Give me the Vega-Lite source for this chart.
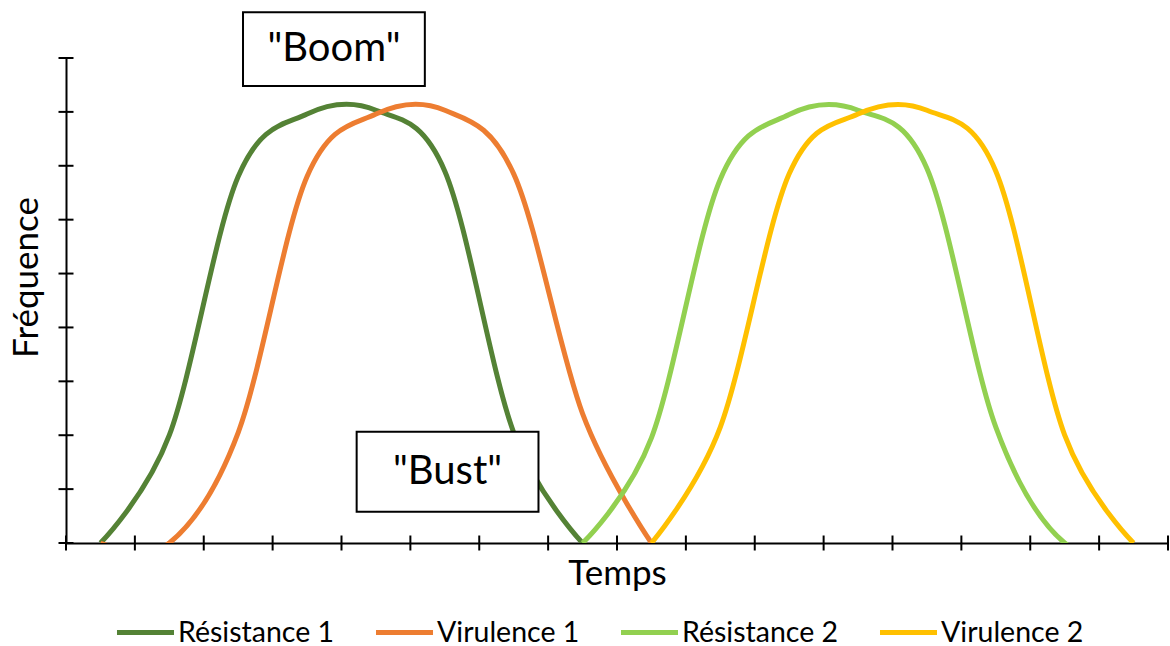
{
  "$schema": "https://vega.github.io/schema/vega-lite/v6.json",
  "width": 1102,
  "height": 485,
  "autosize": {"type": "none"},
  "padding": {"left": 66, "top": 58, "right": 2, "bottom": 103},
  "background": "white",
  "config": {
    "view": {"stroke": null},
    "font": "Lato",
    "axis": {"domainColor": "#000", "domainWidth": 2, "ticks": false, "labels": false, "grid": false, "titleFont": "Lato", "titleFontSize": 35, "titleFontWeight": "normal", "titleColor": "#000"},
    "axisX": {"titlePadding": 13},
    "axisY": {"titlePadding": 22, "titleY": 219}
  },
  "datasets": {
    "curves": [
      {"serie": "Résistance 1", "temps": 0.5, "freq": 0},
      {"serie": "Résistance 1", "temps": 1.5, "freq": 2.0},
      {"serie": "Résistance 1", "temps": 2.5, "freq": 6.8},
      {"serie": "Résistance 1", "temps": 3.5, "freq": 7.96},
      {"serie": "Résistance 1", "temps": 4.5, "freq": 8.03},
      {"serie": "Résistance 1", "temps": 5.5, "freq": 6.9},
      {"serie": "Résistance 1", "temps": 6.5, "freq": 2.05},
      {"serie": "Résistance 1", "temps": 7.5, "freq": 0},
      {"serie": "Virulence 1", "temps": 0.5, "freq": 0},
      {"serie": "Virulence 1", "temps": 1.5, "freq": 0},
      {"serie": "Virulence 1", "temps": 2.5, "freq": 2.05},
      {"serie": "Virulence 1", "temps": 3.5, "freq": 6.8},
      {"serie": "Virulence 1", "temps": 4.5, "freq": 7.96},
      {"serie": "Virulence 1", "temps": 5.5, "freq": 8.03},
      {"serie": "Virulence 1", "temps": 6.5, "freq": 6.85},
      {"serie": "Virulence 1", "temps": 7.5, "freq": 2.4},
      {"serie": "Virulence 1", "temps": 8.5, "freq": 0},
      {"serie": "Résistance 2", "temps": 7.5, "freq": 0},
      {"serie": "Résistance 2", "temps": 8.5, "freq": 1.95},
      {"serie": "Résistance 2", "temps": 9.5, "freq": 6.75},
      {"serie": "Résistance 2", "temps": 10.5, "freq": 7.95},
      {"serie": "Résistance 2", "temps": 11.5, "freq": 8.03},
      {"serie": "Résistance 2", "temps": 12.5, "freq": 6.95},
      {"serie": "Résistance 2", "temps": 13.5, "freq": 2.15},
      {"serie": "Résistance 2", "temps": 14.5, "freq": 0},
      {"serie": "Résistance 2", "temps": 15.5, "freq": 0},
      {"serie": "Virulence 2", "temps": 8.5, "freq": 0},
      {"serie": "Virulence 2", "temps": 9.5, "freq": 2.15},
      {"serie": "Virulence 2", "temps": 10.5, "freq": 6.85},
      {"serie": "Virulence 2", "temps": 11.5, "freq": 7.96},
      {"serie": "Virulence 2", "temps": 12.5, "freq": 8.03},
      {"serie": "Virulence 2", "temps": 13.5, "freq": 6.9},
      {"serie": "Virulence 2", "temps": 14.5, "freq": 2.0},
      {"serie": "Virulence 2", "temps": 15.5, "freq": 0}
    ],
    "xticks": [{"t": 0}, {"t": 1}, {"t": 2}, {"t": 3}, {"t": 4}, {"t": 5}, {"t": 6}, {"t": 7}, {"t": 8}, {"t": 9}, {"t": 10}, {"t": 11}, {"t": 12}, {"t": 13}, {"t": 14}, {"t": 15}, {"t": 16}],
    "yticks": [{"t": 0}, {"t": 1}, {"t": 2}, {"t": 3}, {"t": 4}, {"t": 5}, {"t": 6}, {"t": 7}, {"t": 8}, {"t": 9}],
    "notes": [
      {"label": "\"Boom\"", "gauche": 2.57, "droite": 5.21, "bas": 8.48, "haut": 9.85, "cx": 3.89, "cy": 9.17},
      {"label": "\"Bust\"", "gauche": 4.22, "droite": 6.86, "bas": 0.58, "haut": 2.065, "cx": 5.54, "cy": 1.32}
    ]
  },
  "layer": [
    {
      "data": {"name": "xticks"},
      "mark": {"type": "tick", "orient": "vertical", "size": 15, "thickness": 2, "color": "#000", "opacity": 1},
      "encoding": {
        "x": {"field": "t", "type": "quantitative", "title": "Temps", "scale": {"domain": [0, 16], "nice": false, "zero": false}},
        "y": {"datum": 0, "type": "quantitative", "title": "Fréquence", "scale": {"domain": [0, 9], "nice": false}}
      }
    },
    {
      "data": {"name": "yticks"},
      "mark": {"type": "tick", "orient": "horizontal", "size": 15, "thickness": 2, "color": "#000", "opacity": 1},
      "encoding": {
        "x": {"datum": 0, "type": "quantitative", "title": "Temps"},
        "y": {"field": "t", "type": "quantitative", "title": "Fréquence"}
      }
    },
    {
      "data": {"name": "curves"},
      "transform": [{"filter": "datum.serie === 'Résistance 1'"}],
      "mark": {"type": "line", "interpolate": "cardinal", "strokeWidth": 5, "clip": true, "strokeJoin": "round"},
      "encoding": {
        "x": {"field": "temps", "type": "quantitative", "title": "Temps"},
        "y": {"field": "freq", "type": "quantitative", "title": "Fréquence"},
        "color": {
          "field": "serie", "type": "nominal",
          "scale": {"domain": ["Résistance 1", "Virulence 1", "Résistance 2", "Virulence 2"], "range": ["#548235", "#ED7D31", "#92D050", "#FFC000"]},
          "legend": {"orient": "none", "legendX": 48, "legendY": 543, "direction": "horizontal", "title": null, "symbolType": "stroke", "symbolSize": 3250, "symbolStrokeWidth": 5, "labelFont": "Lato", "labelFontSize": 28.5, "labelColor": "#000", "labelOffset": 1, "columnPadding": 30, "labelLimit": 0}
        }
      }
    },
    {
      "data": {"name": "curves"},
      "transform": [{"filter": "datum.serie === 'Virulence 1'"}],
      "mark": {"type": "line", "interpolate": "cardinal", "strokeWidth": 5, "clip": true, "strokeJoin": "round"},
      "encoding": {
        "x": {"field": "temps", "type": "quantitative", "title": "Temps"},
        "y": {"field": "freq", "type": "quantitative", "title": "Fréquence"},
        "color": {"field": "serie", "type": "nominal"}
      }
    },
    {
      "data": {"name": "curves"},
      "transform": [{"filter": "datum.serie === 'Résistance 2'"}],
      "mark": {"type": "line", "interpolate": "cardinal", "strokeWidth": 5, "clip": true, "strokeJoin": "round"},
      "encoding": {
        "x": {"field": "temps", "type": "quantitative", "title": "Temps"},
        "y": {"field": "freq", "type": "quantitative", "title": "Fréquence"},
        "color": {"field": "serie", "type": "nominal"}
      }
    },
    {
      "data": {"name": "curves"},
      "transform": [{"filter": "datum.serie === 'Virulence 2'"}],
      "mark": {"type": "line", "interpolate": "cardinal", "strokeWidth": 5, "clip": true, "strokeJoin": "round"},
      "encoding": {
        "x": {"field": "temps", "type": "quantitative", "title": "Temps"},
        "y": {"field": "freq", "type": "quantitative", "title": "Fréquence"},
        "color": {"field": "serie", "type": "nominal"}
      }
    },
    {
      "data": {"name": "notes"},
      "mark": {"type": "rect", "fill": "#fff", "stroke": "#000", "strokeWidth": 2},
      "encoding": {
        "x": {"field": "gauche", "type": "quantitative", "title": "Temps"},
        "x2": {"field": "droite"},
        "y": {"field": "bas", "type": "quantitative", "title": "Fréquence"},
        "y2": {"field": "haut"}
      }
    },
    {
      "data": {"name": "notes"},
      "mark": {"type": "text", "font": "Lato", "fontSize": 40, "color": "#000", "align": "center", "baseline": "middle"},
      "encoding": {
        "x": {"field": "cx", "type": "quantitative", "title": "Temps"},
        "y": {"field": "cy", "type": "quantitative", "title": "Fréquence"},
        "text": {"field": "label"}
      }
    }
  ]
}
